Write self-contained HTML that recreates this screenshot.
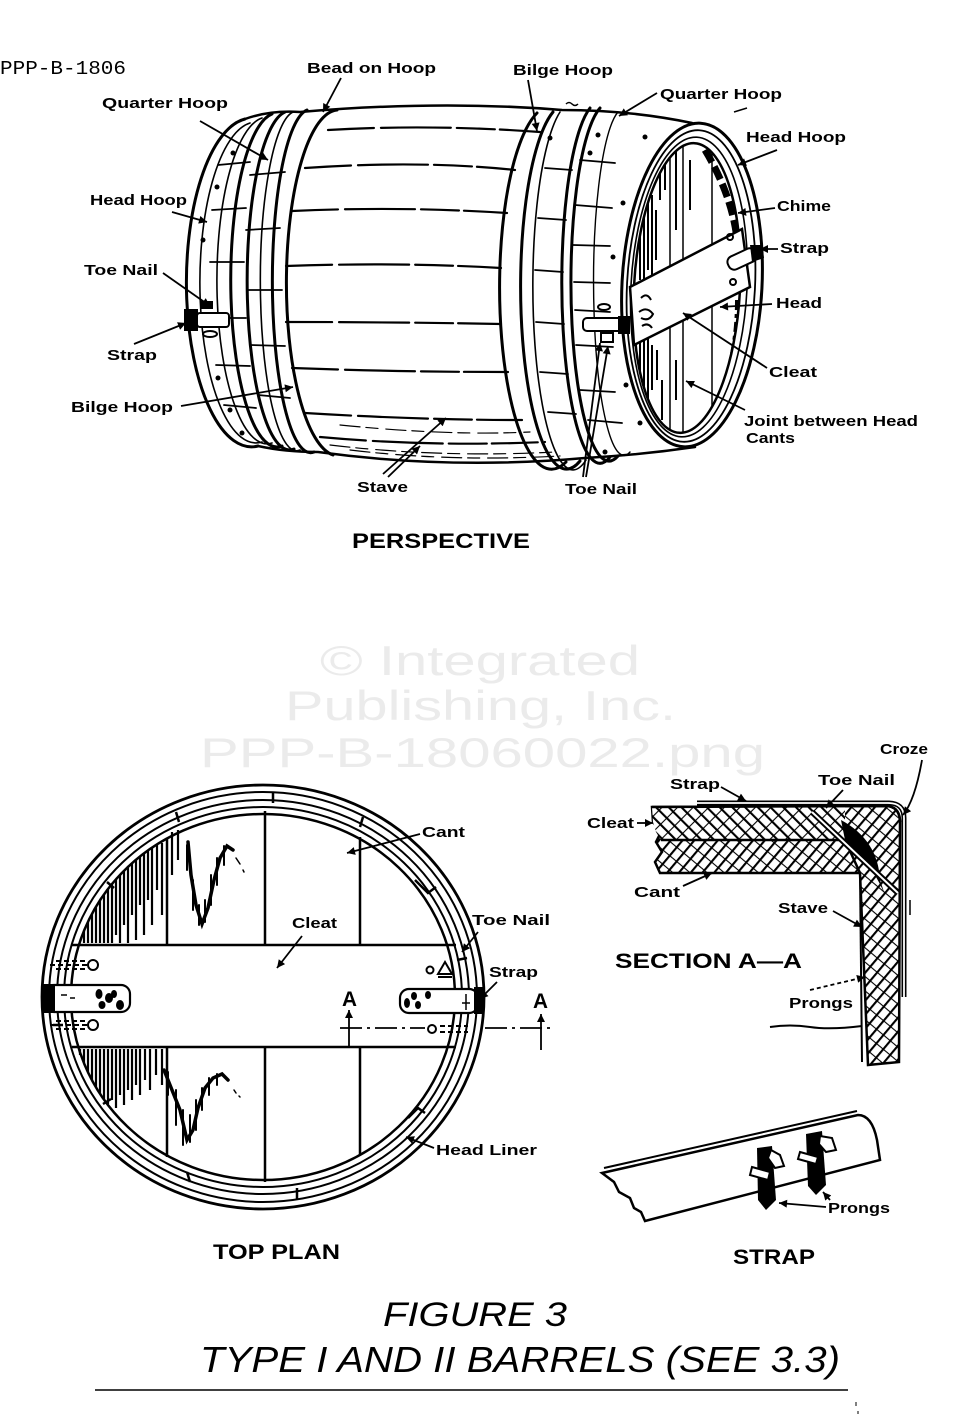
<!DOCTYPE html>
<html><head><meta charset="utf-8">
<style>
html,body{margin:0;padding:0;background:#fff;}
svg{display:block;}
.l{font-family:"Liberation Sans",sans-serif;font-weight:bold;font-size:15px;fill:#000;}
.t{font-family:"Liberation Sans",sans-serif;font-weight:bold;font-size:21px;fill:#000;}
.w{font-family:"Liberation Sans",sans-serif;font-size:42px;fill:#ebebeb;}
.h{font-family:"Liberation Sans",sans-serif;font-style:italic;fill:#000;}
</style></head><body>
<svg width="966" height="1416" viewBox="0 0 966 1416" xmlns="http://www.w3.org/2000/svg">
<defs>
<marker id="a" markerUnits="userSpaceOnUse" viewBox="0 0 10 10" refX="10" refY="5" markerWidth="10" markerHeight="8" orient="auto"><path d="M0,0 L10,5 L0,10 z"/></marker>
<pattern id="hx" patternUnits="userSpaceOnUse" width="9" height="11" patternTransform="rotate(40)"><rect width="9" height="11" fill="#fff"/><line x1="1" y1="0" x2="1" y2="11" stroke="#000" stroke-width="2.2"/><line x1="0" y1="5" x2="9" y2="5" stroke="#000" stroke-width="1.1"/></pattern>
<pattern id="hy" patternUnits="userSpaceOnUse" width="9" height="11" patternTransform="rotate(-45)"><rect width="9" height="11" fill="#fff"/><line x1="1" y1="0" x2="1" y2="11" stroke="#000" stroke-width="2.2"/><line x1="0" y1="5" x2="9" y2="5" stroke="#000" stroke-width="1.1"/></pattern>
<clipPath id="hc"><ellipse cx="687" cy="288" rx="53" ry="145" transform="rotate(3 687 288)"/></clipPath>
</defs>
<rect width="966" height="1416" fill="#fff"/>

<!-- watermark -->
<text class="w" x="320" y="675" textLength="320" lengthAdjust="spacingAndGlyphs">© Integrated</text>
<text class="w" x="285" y="720" textLength="391" lengthAdjust="spacingAndGlyphs">Publishing, Inc.</text>
<text class="w" x="200" y="767" textLength="565" lengthAdjust="spacingAndGlyphs">PPP-B-18060022.png</text>

<text x="0" y="74" font-family="Liberation Mono, monospace" font-size="19" textLength="126" lengthAdjust="spacingAndGlyphs">PPP-B-1806</text>

<!-- ================= PERSPECTIVE BARREL ================= -->
<g fill="none" stroke="#000" stroke-width="2.5" stroke-linecap="round">
 <path d="M245,119 Q270,110 300,112 Q440,100 562,110 Q630,110 692,123"/>
 <path d="M258,446 Q285,452 318,452 Q450,470 585,458 Q640,455 695,447"/>
 <path d="M245,119 A65,164 0 0 0 258,446" stroke-width="3"/>
 <path d="M250,123 A56,160 0 0 0 262,442" stroke-width="1.6"/>
 <path d="M262,118 A50,163 0 0 0 272,443" stroke-width="1.6"/>
 <path d="M272,114 A46,166 0 0 0 282,446" stroke-width="3"/>
 <path d="M285,112 A42,168 0 0 0 294,449" stroke-width="3"/>
 <path d="M293,112 A36,169 0 0 0 300,450" stroke-width="1.6"/>
 <path d="M307,110 A38,171 0 0 0 314,452" stroke-width="3"/>
 <path d="M337,110 A52,173 0 0 0 333,455" stroke-width="3"/>
 <path d="M537,113 A50,175 0 0 0 566,462" stroke-width="3"/>
 <path d="M553,112 A44,175 0 0 0 580,461" stroke-width="3"/>
 <path d="M560,112 A38,174 0 0 0 586,460" stroke-width="1.6"/>
 <path d="M590,108 A37,175 0 0 0 610,457" stroke-width="3"/>
 <path d="M600,108 A37,174 0 0 0 618,456" stroke-width="3"/>
 <path d="M618,112 A30,171 0 0 0 630,452" stroke-width="1.4"/>
 <g stroke-width="2.2" stroke-dasharray="46 7 70 6 38 5">
  <path d="M328,130 Q430,124 540,132"/>
  <path d="M305,168 Q420,160 515,170"/>
  <path d="M292,211 Q400,206 507,213"/>
  <path d="M286,266 Q400,262 501,268"/>
  <path d="M286,322 Q400,322 501,324"/>
  <path d="M292,368 Q400,372 508,372"/>
  <path d="M305,413 Q420,420 522,420"/>
  <path d="M320,437 Q430,447 545,442"/>
 </g>
 <g stroke-width="1.2" stroke-dasharray="20 6 12 8">
  <path d="M330,445 Q440,458 555,452"/>
  <path d="M340,425 Q450,436 530,432"/>
  <path d="M350,450 Q450,462 560,456"/>
 </g>
 <g stroke-width="1.8">
  <path d="M218,165 L250,162"/><path d="M212,210 L246,208"/><path d="M210,262 L244,262"/>
  <path d="M212,318 L246,318"/><path d="M216,365 L250,366"/><path d="M224,405 L256,408"/>
  <path d="M250,175 L285,172"/><path d="M246,230 L280,228"/><path d="M247,290 L282,290"/><path d="M250,345 L285,346"/><path d="M258,395 L290,398"/>
 </g>
 <g stroke-width="1.8">
  <path d="M545,168 L572,170"/><path d="M538,218 L566,220"/><path d="M535,270 L563,272"/>
  <path d="M536,322 L564,324"/><path d="M540,372 L568,374"/><path d="M548,412 L576,414"/>
  <path d="M580,160 L615,163"/><path d="M575,205 L612,208"/><path d="M573,245 L610,246"/>
  <path d="M574,282 L610,283"/><path d="M575,310 L610,312"/><path d="M576,345 L613,347"/>
  <path d="M580,390 L615,392"/><path d="M588,420 L622,423"/>
 </g>
 <ellipse cx="692" cy="285" rx="70" ry="162" transform="rotate(3 692 285)" stroke-width="3"/>
 <ellipse cx="691" cy="286" rx="64" ry="156" transform="rotate(3 691 286)" stroke-width="1.8"/>
 <ellipse cx="689" cy="287" rx="58" ry="150" transform="rotate(3 689 287)" stroke-width="1.6"/>
 <ellipse cx="687" cy="288" rx="53" ry="145" transform="rotate(3 687 288)" stroke-width="2.5"/>
</g>
<g clip-path="url(#hc)" stroke="#000" fill="none">
 <g stroke-width="1.5">
  <path d="M670,130 L670,440"/><path d="M683,130 L683,440"/><path d="M712,130 L712,440"/>
 </g>
 <g stroke-width="2">
  <path d="M640,200 V280"/><path d="M644,190 V285"/><path d="M648,185 V270"/><path d="M652,195 V285"/><path d="M656,210 V260"/>
  <path d="M660,150 V200"/><path d="M665,145 V190"/><path d="M676,150 V230"/><path d="M690,160 V210"/>
  <path d="M640,330 V400"/><path d="M644,340 V410"/><path d="M648,335 V400"/><path d="M652,345 V390"/><path d="M657,350 V380"/>
  <path d="M662,380 V420"/><path d="M676,360 V400"/>
 </g>
 <path d="M705,150 Q735,200 738,250" stroke-width="7" stroke-dasharray="14 5"/>
 <path d="M738,300 Q738,380 700,430" stroke-width="6" stroke-dasharray="10 4 4 4"/>
</g>
<g stroke="#000" stroke-width="2.5" fill="#fff">
 <polygon points="630,287 742,229 750,287 634,345"/>
</g>
<g fill="none" stroke="#000" stroke-width="2">
 <path d="M641,298 q6,-6 10,2"/><path d="M639,312 q8,-6 14,2 q-4,8 -12,4"/><path d="M642,326 q6,-4 10,2"/>
 <circle cx="733" cy="282" r="3"/><circle cx="730" cy="237" r="3"/>
</g>
<g stroke="#000" stroke-width="2" fill="#fff">
 <rect x="583" y="318" width="42" height="13" rx="4"/>
 <rect x="727" y="252" width="30" height="14" rx="6" transform="rotate(-25 742 259)"/>
 <rect x="197" y="313" width="32" height="14" rx="3"/>
 <ellipse cx="210" cy="334" rx="7" ry="3"/>
 <ellipse cx="604" cy="307" rx="6" ry="3"/>
 <rect x="601" y="333" width="12" height="9"/>
</g>
<g fill="#000">
 <rect x="618" y="316" width="12" height="18"/>
 <path d="M750,245 L762,245 L764,258 L752,262 Z"/>
 <rect x="184" y="309" width="14" height="22"/>
 <rect x="200" y="301" width="13" height="8"/>
</g>
<g fill="#000">
 <circle cx="233" cy="153" r="2.5"/><circle cx="217" cy="187" r="2.5"/><circle cx="203" cy="240" r="2.5"/>
 <circle cx="218" cy="378" r="2.5"/><circle cx="230" cy="410" r="2.5"/><circle cx="242" cy="433" r="2.5"/>
 <circle cx="550" cy="138" r="2.5"/><circle cx="590" cy="153" r="2.5"/><circle cx="598" cy="135" r="2.5"/>
 <circle cx="645" cy="137" r="2.5"/><circle cx="623" cy="203" r="2.5"/><circle cx="613" cy="257" r="2.5"/>
 <circle cx="626" cy="385" r="2.5"/><circle cx="640" cy="423" r="2.5"/><circle cx="605" cy="452" r="2.5"/>
</g>
<path d="M566,104 q3,-3 6,0 t6,0" stroke="#000" stroke-width="1.5" fill="none"/>
<path d="M734,112 L747,108" stroke="#000" stroke-width="1.5"/>

<g stroke="#000" stroke-width="1.8" fill="none" marker-end="url(#a)">
 <path d="M341,78 L323,112"/>
 <path d="M528,80 L537,131"/>
 <path d="M200,121 L268,160"/>
 <path d="M657,93 L619,116"/>
 <path d="M777,150 L738,165"/>
 <path d="M775,208 L738,213"/>
 <path d="M778,249 L760,249"/>
 <path d="M772,304 L720,307"/>
 <path d="M767,368 L683,313"/>
 <path d="M745,410 L686,381"/>
 <path d="M583,477 L600,343"/>
 <path d="M586,477 L608,346"/>
 <path d="M383,474 L446,418"/>
 <path d="M388,477 L420,446"/>
 <path d="M172,212 L207,222"/>
 <path d="M163,273 L210,306"/>
 <path d="M134,344 L186,323"/>
 <path d="M181,406 L293,387"/>
</g>

<text class="l" x="307" y="73" textLength="129" lengthAdjust="spacingAndGlyphs">Bead on Hoop</text>
<text class="l" x="513" y="75" textLength="100" lengthAdjust="spacingAndGlyphs">Bilge Hoop</text>
<text class="l" x="102" y="108" textLength="126" lengthAdjust="spacingAndGlyphs">Quarter Hoop</text>
<text class="l" x="660" y="99" textLength="122" lengthAdjust="spacingAndGlyphs">Quarter Hoop</text>
<text class="l" x="746" y="142" textLength="100" lengthAdjust="spacingAndGlyphs">Head Hoop</text>
<text class="l" x="777" y="211" textLength="54" lengthAdjust="spacingAndGlyphs">Chime</text>
<text class="l" x="780" y="253" textLength="49" lengthAdjust="spacingAndGlyphs">Strap</text>
<text class="l" x="776" y="308" textLength="46" lengthAdjust="spacingAndGlyphs">Head</text>
<text class="l" x="769" y="377" textLength="48" lengthAdjust="spacingAndGlyphs">Cleat</text>
<text class="l" x="744" y="426" textLength="174" lengthAdjust="spacingAndGlyphs">Joint between Head</text>
<text class="l" x="746" y="443" textLength="49" lengthAdjust="spacingAndGlyphs">Cants</text>
<text class="l" x="565" y="494" textLength="72" lengthAdjust="spacingAndGlyphs">Toe Nail</text>
<text class="l" x="357" y="492" textLength="51" lengthAdjust="spacingAndGlyphs">Stave</text>
<text class="l" x="90" y="205" textLength="97" lengthAdjust="spacingAndGlyphs">Head Hoop</text>
<text class="l" x="84" y="275" textLength="74" lengthAdjust="spacingAndGlyphs">Toe Nail</text>
<text class="l" x="107" y="360" textLength="50" lengthAdjust="spacingAndGlyphs">Strap</text>
<text class="l" x="71" y="412" textLength="102" lengthAdjust="spacingAndGlyphs">Bilge Hoop</text>
<text class="t" x="352" y="548" textLength="178" lengthAdjust="spacingAndGlyphs">PERSPECTIVE</text>

<!-- ================= TOP PLAN ================= -->
<g fill="none" stroke="#000">
 <ellipse cx="263" cy="997" rx="221" ry="212" stroke-width="2.8"/>
 <ellipse cx="263" cy="997" rx="214" ry="205" stroke-width="2"/>
 <ellipse cx="263" cy="997" rx="206" ry="197" stroke-width="2"/>
 <ellipse cx="263" cy="997" rx="199" ry="190" stroke-width="2"/>
 <ellipse cx="263" cy="997" rx="192" ry="183" stroke-width="2.5"/>
</g>
<g stroke="#000" stroke-width="2.2">
 <path d="M84,931 V943"/><path d="M88,922 V943"/><path d="M92,914 V943"/><path d="M96,907 V943"/>
 <path d="M100,900 V943"/><path d="M104,894 V943"/><path d="M108,889 V943"/><path d="M112,884 V943"/>
 <path d="M116,879 V935"/><path d="M120,875 V943"/><path d="M124,871 V925"/><path d="M128,867 V943"/>
 <path d="M132,863 V915"/><path d="M136,860 V940"/><path d="M140,856 V905"/><path d="M144,853 V935"/>
 <path d="M148,850 V900"/><path d="M152,848 V925"/><path d="M157,845 V890"/><path d="M162,843 V915"/>
 <path d="M172,832 V875"/><path d="M178,830 V860"/>
</g>
<g stroke="#000" stroke-width="2.2">
 <path d="M80,1049 V1055"/><path d="M84,1049 V1063"/><path d="M88,1049 V1072"/><path d="M92,1049 V1080"/>
 <path d="M96,1049 V1087"/><path d="M100,1049 V1094"/><path d="M104,1049 V1099"/><path d="M108,1049 V1104"/>
 <path d="M112,1049 V1100"/><path d="M116,1049 V1108"/><path d="M120,1049 V1095"/><path d="M124,1049 V1105"/>
 <path d="M128,1049 V1090"/><path d="M132,1049 V1100"/><path d="M136,1049 V1085"/><path d="M140,1049 V1095"/>
 <path d="M145,1049 V1080"/><path d="M150,1049 V1090"/><path d="M156,1049 V1075"/><path d="M162,1049 V1085"/>
</g>
<g fill="none" stroke="#000" stroke-linecap="round">
 <path d="M188,842 L191,875 L196,905 L202,924 L208,908 L214,880 L220,858 L227,846 L233,850" stroke-width="3.5"/>
 <path d="M187,845 V870 M193,880 V910 M199,905 V925 M205,900 V922 M211,875 V905 M217,858 V885 M224,846 V865" stroke-width="2"/>
 <path d="M236,858 L240,864 M243,870 L244,872" stroke-width="1.5"/>
 <path d="M164,1070 L172,1090 L180,1110 L187,1140 L193,1130 L198,1108 L205,1088 L213,1078 L222,1074 L228,1080" stroke-width="3.5"/>
 <path d="M168,1072 V1095 M176,1090 V1125 M183,1110 V1145 M190,1115 V1142 M196,1100 V1130 M202,1088 V1110 M209,1078 V1095 M217,1074 V1085" stroke-width="2"/>
 <path d="M234,1090 L236,1093 M239,1096 L240,1097" stroke-width="1.5"/>
</g>
<g stroke="#000" stroke-width="2.5" fill="none">
 <path d="M72,945 H456"/>
 <path d="M72,1047 H456"/>
 <path d="M167,838 V945"/><path d="M265,811 V945"/><path d="M360,837 V945"/>
 <path d="M167,1047 V1157"/><path d="M265,1047 V1182"/><path d="M360,1047 V1155"/>
</g>
<g stroke="#000" stroke-width="2.5">
 <path d="M273,792 V803"/><path d="M176,812 L179,822"/><path d="M363,817 L360,827"/>
 <path d="M107,882 L114,888"/><path d="M53,1025 L63,1025"/><path d="M103,1104 L111,1099"/>
 <path d="M187,1172 L190,1182"/><path d="M297,1188 V1200"/><path d="M467,958 L457,960"/>
</g>
<path d="M415,880 L428,893 L436,887" stroke="#000" stroke-width="2.5" fill="none"/>
<path d="M408,1118 L418,1108 L425,1113" stroke="#000" stroke-width="2.5" fill="none"/>
<g stroke="#000" stroke-width="2.2" fill="#fff">
 <rect x="45" y="985" width="85" height="27" rx="9"/>
 <rect x="400" y="989" width="78" height="24" rx="9"/>
</g>
<g fill="#000">
 <rect x="42" y="984" width="13" height="29"/>
 <rect x="474" y="987" width="9" height="27"/>
 <ellipse cx="99" cy="994" rx="3.5" ry="5"/><ellipse cx="109" cy="998" rx="4" ry="5"/><ellipse cx="102" cy="1005" rx="3.5" ry="4"/>
 <ellipse cx="120" cy="1005" rx="4" ry="5"/><ellipse cx="114" cy="994" rx="3" ry="4"/>
 <ellipse cx="407" cy="1003" rx="3" ry="5"/><ellipse cx="414" cy="996" rx="3" ry="4"/><ellipse cx="418" cy="1005" rx="3" ry="4"/><ellipse cx="428" cy="995" rx="3" ry="4"/>
 <path d="M462,1003 H470 M466,994 V1010" stroke="#000" stroke-width="1.5"/>
 <path d="M61,995 h6 M70,998 h5" stroke="#000" stroke-width="1.5"/>
</g>
<g stroke="#000" stroke-width="2" fill="none">
 <path d="M50,965 H88 M56,961 H86 M56,969 H86" stroke-dasharray="5 3"/>
 <circle cx="93" cy="965" r="5"/>
 <path d="M50,1025 H88 M56,1021 H86 M56,1029 H86" stroke-dasharray="5 3"/>
 <circle cx="93" cy="1025" r="5"/>
 <circle cx="430" cy="970" r="3.5"/>
 <path d="M438,974 L445,962 L452,974 Z M438,977 H452"/>
 <circle cx="432" cy="1029" r="4"/>
 <path d="M440,1026 H468 M440,1032 H468" stroke-dasharray="5 3"/>
</g>
<g stroke="#000" stroke-width="1.8" fill="none">
 <path d="M340,1028 H425" stroke-dasharray="22 5 3 5"/>
 <path d="M485,1028 H555" stroke-dasharray="22 5 3 5"/>
 <path d="M349,1048 V1010" marker-end="url(#a)"/>
 <path d="M541,1050 V1014" marker-end="url(#a)"/>
</g>
<text class="t" x="342" y="1006" font-size="19" textLength="15" lengthAdjust="spacingAndGlyphs">A</text>
<text class="t" x="533" y="1008" font-size="19" textLength="15" lengthAdjust="spacingAndGlyphs">A</text>
<g stroke="#000" stroke-width="1.8" fill="none" marker-end="url(#a)">
 <path d="M420,834 L347,853"/>
 <path d="M302,936 L277,968"/>
 <path d="M478,932 L462,952"/>
 <path d="M497,982 L480,999"/>
 <path d="M434,1148 L406,1137"/>
</g>
<text class="l" x="422" y="837" textLength="43" lengthAdjust="spacingAndGlyphs">Cant</text>
<text class="l" x="292" y="928" textLength="45" lengthAdjust="spacingAndGlyphs">Cleat</text>
<text class="l" x="472" y="925" textLength="78" lengthAdjust="spacingAndGlyphs">Toe Nail</text>
<text class="l" x="489" y="977" textLength="49" lengthAdjust="spacingAndGlyphs">Strap</text>
<text class="l" x="436" y="1155" textLength="101" lengthAdjust="spacingAndGlyphs">Head Liner</text>
<text class="t" x="213" y="1259" textLength="127" lengthAdjust="spacingAndGlyphs">TOP PLAN</text>

<!-- ================= SECTION A-A ================= -->
<path d="M652,807 L888,806 Q900,808 900,822 L899,1062 L868,1065 L860,873 L660,873 L655,862 L662,852 L656,842 L661,832 L653,822 Z" fill="url(#hx)" stroke="#000" stroke-width="2.5"/>
<path d="M652,807 L845,806 L845,840 L661,840 L656,832 L653,822 Z" fill="url(#hy)"/>
<path d="M841,820 Q878,840 880,880 L885,895 Q870,860 845,840 Z" fill="#000"/>
<g stroke="#000" fill="none">
 <path d="M652,807 L888,806 Q900,808 900,822" stroke-width="2.5"/>
 <path d="M661,840 L845,840 L860,873" stroke-width="2.5"/>
 <path d="M860,873 L862,1062" stroke-width="2"/>
 <path d="M697,803 L888,803 Q904,803 904,818 L904,997" stroke-width="5"/>
 <path d="M697,803 L888,803 Q904,803 904,818 L904,997" stroke="#fff" stroke-width="1.8"/>
 <path d="M812,812 L898,893" stroke-width="6"/>
 <path d="M812,812 L898,893" stroke="#fff" stroke-width="2"/>
 <path d="M770,1027 Q790,1024 810,1027 T862,1026" stroke-width="2"/>
 <path d="M910,900 V915" stroke-width="1.5"/>
</g>
<g stroke="#000" stroke-width="1.8" fill="none" marker-end="url(#a)">
 <path d="M721,787 L746,801"/>
 <path d="M843,790 L826,808"/>
 <path d="M637,823 L653,823"/>
 <path d="M683,886 L712,873"/>
 <path d="M833,911 L862,927"/>
 <path d="M810,990 L865,977" stroke-dasharray="4 3"/>
 <path d="M922,760 Q915,800 903,815"/>
</g>
<text class="l" x="880" y="754" textLength="48" lengthAdjust="spacingAndGlyphs">Croze</text>
<text class="l" x="670" y="789" textLength="50" lengthAdjust="spacingAndGlyphs">Strap</text>
<text class="l" x="818" y="785" textLength="77" lengthAdjust="spacingAndGlyphs">Toe Nail</text>
<text class="l" x="587" y="828" textLength="47" lengthAdjust="spacingAndGlyphs">Cleat</text>
<text class="l" x="634" y="897" textLength="46" lengthAdjust="spacingAndGlyphs">Cant</text>
<text class="l" x="778" y="913" textLength="50" lengthAdjust="spacingAndGlyphs">Stave</text>
<text class="t" x="615" y="968" textLength="187" lengthAdjust="spacingAndGlyphs">SECTION A—A</text>
<text class="l" x="789" y="1008" textLength="64" lengthAdjust="spacingAndGlyphs">Prongs</text>

<!-- ================= STRAP ================= -->
<path d="M602,1173 L858,1115 Q872,1115 877,1140 L880,1160 L645,1221 L641,1212 L634,1208 L630,1198 L619,1192 L614,1182 Z" fill="#fff" stroke="#000" stroke-width="2.5"/>
<path d="M604,1168 L857,1111" stroke="#000" stroke-width="2"/>
<g fill="#000">
 <path d="M757,1148 L772,1146 L776,1200 L766,1210 L758,1200 Z"/>
 <path d="M806,1134 L822,1131 L826,1185 L816,1195 L808,1186 Z"/>
</g>
<g fill="#fff" stroke="#000" stroke-width="2">
 <path d="M771,1150 L780,1155 L784,1166 L775,1168 L768,1158 Z"/>
 <path d="M820,1136 L832,1138 L836,1150 L826,1152 L819,1144 Z"/>
 <path d="M752,1167 L770,1172 L768,1180 L750,1175 Z"/>
 <path d="M800,1152 L818,1157 L816,1164 L798,1159 Z"/>
</g>
<g stroke="#000" stroke-width="1.8" fill="none" marker-end="url(#a)">
 <path d="M826,1207 L779,1203"/>
 <path d="M830,1200 L823,1192"/>
</g>
<text class="l" x="828" y="1213" textLength="62" lengthAdjust="spacingAndGlyphs">Prongs</text>
<text class="t" x="733" y="1264" textLength="82" lengthAdjust="spacingAndGlyphs">STRAP</text>

<!-- ================= TITLE ================= -->
<text class="h" x="383" y="1326" font-size="34" textLength="184" lengthAdjust="spacingAndGlyphs">FIGURE 3</text>
<text class="h" x="200" y="1372" font-size="36" textLength="640" lengthAdjust="spacingAndGlyphs">TYPE I AND II BARRELS (SEE 3.3)</text>
<path d="M95,1390 H848" stroke="#000" stroke-width="1.6"/>
<path d="M856,1402 V1406 M858,1411 V1414" stroke="#000" stroke-width="1"/>
</svg>
</body></html>
